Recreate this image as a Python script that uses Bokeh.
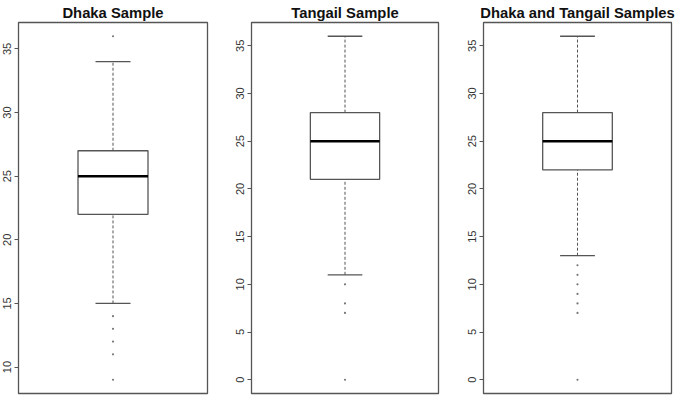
from bokeh.plotting import figure
from bokeh.layouts import row
from bokeh.models import Range1d, FixedTicker
from bokeh.embed import file_html
from bokeh.resources import INLINE

# ---- data ----
titles = ["Dhaka Sample", "Tangail Sample", "Dhaka and Tangail Samples"]
whisker_low = [15, 11, 13]
q1 = [22, 21, 22]
medians = [25, 25, 25]
q3 = [27, 28, 28]
whisker_high = [34, 36, 36]
outliers = [
    [9, 11, 12, 13, 14, 36],
    [0, 7, 8, 10],
    [0, 7, 8, 9, 10, 11, 12],
]
yticks = [
    [10, 15, 20, 25, 30, 35],
    [0, 5, 10, 15, 20, 25, 30, 35],
    [0, 5, 10, 15, 20, 25, 30, 35],
]

# ---- layout (sizes/styles only) ----
fig_widths = [225, 232, 220]
borders_left = [18, 26, 26]
borders_right = [18, 19, 6]
HEIGHT = 395
FONT = "Liberation Sans"
LINE = "#555555"

figs = []
for i in range(3):
    vals = [whisker_low[i], whisker_high[i]] + outliers[i]
    lo, hi = min(vals), max(vals)
    pad = 0.04 * (hi - lo)
    p = figure(width=fig_widths[i], height=HEIGHT, output_backend="svg",
               toolbar_location=None, x_axis_type=None,
               x_range=Range1d(0.46, 1.54), y_range=Range1d(lo - pad, hi + pad),
               min_border_left=borders_left[i], min_border_right=borders_right[i],
               min_border_top=0, min_border_bottom=2)
    p.title.text = titles[i]
    p.title.align = "center"
    p.title.text_font = FONT
    p.title.text_font_style = "bold"
    p.title.text_font_size = "14.8px"
    p.title.text_color = "#111111"
    p.title.standoff = 4
    p.grid.visible = False
    p.outline_line_color = LINE
    p.outline_line_width = 1.3
    p.outline_line_alpha = 1.0
    p.background_fill_color = "white"
    p.border_fill_color = "white"

    ax = p.yaxis[0]
    ax.ticker = FixedTicker(ticks=yticks[i])
    ax.minor_tick_line_color = None
    ax.major_tick_out = 4
    ax.major_tick_in = 0
    ax.major_tick_line_color = LINE
    ax.axis_line_color = LINE
    ax.major_label_orientation = "vertical"
    ax.major_label_standoff = 3
    ax.major_label_text_font = FONT
    ax.major_label_text_font_size = "11px"
    ax.major_label_text_color = "#333333"

    # whiskers (dashed)
    p.segment(x0=[1, 1], y0=[whisker_low[i], q3[i]], x1=[1, 1], y1=[q1[i], whisker_high[i]],
              line_color=LINE, line_width=1, line_dash="3 2")
    # caps
    p.segment(x0=[0.9, 0.9], y0=[whisker_low[i], whisker_high[i]],
              x1=[1.1, 1.1], y1=[whisker_low[i], whisker_high[i]],
              line_color=LINE, line_width=1.3)
    # box
    p.quad(left=[0.8], right=[1.2], bottom=[q1[i]], top=[q3[i]],
           fill_color="white", line_color=LINE, line_width=1.3)
    # median
    p.segment(x0=[0.8], y0=[medians[i]], x1=[1.2], y1=[medians[i]],
              line_color="black", line_width=2.5)
    # outliers
    p.scatter(x=[1] * len(outliers[i]), y=outliers[i], size=2.2,
              fill_color="#777777", line_color=None)
    figs.append(p)

layout = row(*figs, spacing=0)
open("out.html", "w").write(file_html(layout, INLINE))
